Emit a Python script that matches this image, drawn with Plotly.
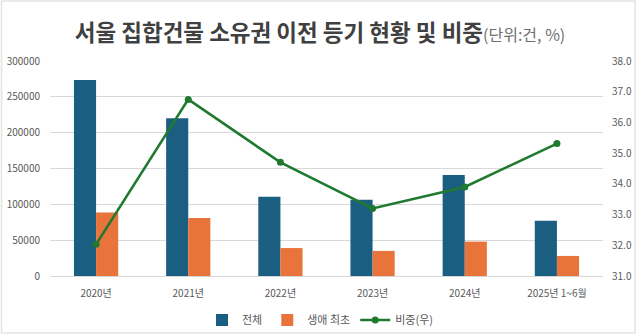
import plotly.graph_objects as go

categories = ["2020년", "2021년", "2022년", "2023년", "2024년", "2025년 1~6월"]
total = [273500, 220000, 110500, 106500, 141000, 77000]
first_time = [88500, 81000, 39000, 35000, 48000, 28000]
share = [32.03, 36.75, 34.70, 33.20, 33.90, 35.31]

left_ticks = [0, 50000, 100000, 150000, 200000, 250000, 300000]
right_ticks = [31, 32, 33, 34, 35, 36, 37, 38]

FONT = "Noto Sans CJK KR"
BLUE = "#1a5e82"
ORANGE = "#e8743b"
GREEN = "#1f7a30"
TICK = "#595959"

fig = go.Figure()
fig.add_trace(go.Bar(x=categories, y=total, name="전체", marker_color=BLUE,
                     marker_line_width=0))
fig.add_trace(go.Bar(x=categories, y=first_time, name="생애 최초", marker_color=ORANGE,
                     marker_line_width=0))
fig.add_trace(go.Scatter(x=categories, y=share, name="비중(우)", yaxis="y2",
                         mode="lines+markers",
                         line=dict(color=GREEN, width=2.6),
                         marker=dict(color=GREEN, size=7)))

fig.update_layout(
    width=640, height=336,
    margin=dict(l=50, r=37, t=61, b=60, autoexpand=False),
    paper_bgcolor="white", plot_bgcolor="white",
    barmode="group", bargap=0.52, bargroupgap=0,
    font=dict(family=FONT, size=11, color=TICK),
    title=dict(
        text="<b>서울 집합건물 소유권 이전 등기 현황 및 비중</b>"
             "<span style='font-size:16px;color:#6f6f6f'>(단위:건, %)</span>",
        x=0.5, xref="container", xanchor="center",
        y=1 - 33 / 336, yref="container", yanchor="middle",
        font=dict(family=FONT, size=22.5, color="#404040"),
    ),
    xaxis=dict(
        showgrid=False, showline=True, linecolor="#d9d9d9", linewidth=1,
        ticks="", tickfont=dict(size=10, color=TICK), ticklabelstandoff=8,
    ),
    yaxis=dict(
        range=[0, 300000], tickvals=left_ticks, tickformat="d",
        showgrid=True, gridcolor="#d9d9d9", gridwidth=1,
        zeroline=False, showline=False, ticks="",
        tickfont=dict(size=10, color=TICK), ticklabelstandoff=9,
    ),
    yaxis2=dict(
        overlaying="y", side="right", range=[31, 38], tickvals=right_ticks,
        tickformat=".1f", showgrid=False, zeroline=False, showline=False,
        ticks="", tickfont=dict(size=10, color=TICK), ticklabelstandoff=8,
    ),
    legend=dict(
        orientation="h", x=(320 - 50) / 553, xref="paper", xanchor="center",
        y=(276 - 320) / 215, yref="paper", yanchor="middle",
        font=dict(size=11, color=TICK), itemwidth=30,
        bgcolor="rgba(0,0,0,0)",
    ),
    shapes=[dict(type="rect", xref="paper", yref="paper",
                 x0=(1.5 - 50) / 553, x1=(635 - 50) / 553,
                 y0=(276 - 333) / 215, y1=(276 - 1) / 215,
                 line=dict(color="#e3e3e3", width=1.5), layer="below")],
)

fig.write_html("out.html")
